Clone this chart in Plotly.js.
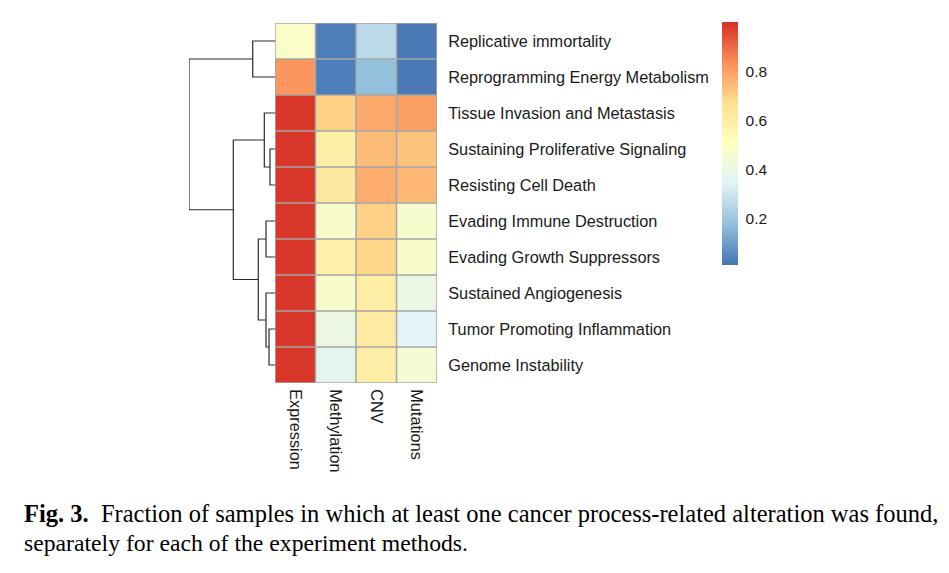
<!DOCTYPE html>
<html>
<head>
<meta charset="utf-8">
<script src="https://cdn.plot.ly/plotly-3.0.1.min.js"></script>
<style>html,body{margin:0;padding:0;background:#fff;}#chart{width:949px;height:573px;}</style>
</head>
<body>
<div id="chart"></div>
<script>
// ---- data ----
const rowLabels = [
  "Replicative immortality",
  "Reprogramming Energy Metabolism",
  "Tissue Invasion and Metastasis",
  "Sustaining Proliferative Signaling",
  "Resisting Cell Death",
  "Evading Immune Destruction",
  "Evading Growth Suppressors",
  "Sustained Angiogenesis",
  "Tumor Promoting Inflammation",
  "Genome Instability"
];
const colLabels = ["Expression", "Methylation", "CNV", "Mutations"];
const expression  = [0.48, 0.82, 0.99, 0.99, 0.99, 0.99, 0.99, 0.99, 0.99, 0.99];
const methylation = [0.03, 0.03, 0.70, 0.59, 0.62, 0.47, 0.58, 0.47, 0.40, 0.36];
const cnv         = [0.26, 0.18, 0.78, 0.74, 0.77, 0.70, 0.69, 0.60, 0.61, 0.60];
const mutations   = [0.02, 0.02, 0.80, 0.73, 0.75, 0.46, 0.47, 0.40, 0.35, 0.45];
// row dendrogram merges: [left, right, height]; leaves 0-9, merge k gets id 10+k
const merges = [
  [0, 1, 22.3],
  [3, 4, 5.0],
  [2, 11, 10.7],
  [5, 6, 9.0],
  [8, 9, 6.0],
  [7, 14, 9.0],
  [13, 15, 16.7],
  [12, 16, 41.7],
  [10, 17, 86.0]
];
const cbTicks = [0.2, 0.4, 0.6, 0.8];
const caption1 = "<b>Fig. 3.</b>  Fraction of samples in which at least one cancer process-related alteration was found,";
const caption2 = "separately for each of the experiment methods.";

// ---- build ----
const W = 949, H = 573;
const z = rowLabels.map((_, i) => [expression[i], methylation[i], cnv[i], mutations[i]]);
const rowIdx = rowLabels.map((_, i) => i);
const colIdx = colLabels.map((_, i) => i);

const colorscale = [
  [0, '#4575B4'], [1/6, '#91BFDB'], [2/6, '#E0F3F8'], [3/6, '#FFFFBF'],
  [4/6, '#FEE090'], [5/6, '#FC8D59'], [1, '#D73027']
];

const heat = {
  type: 'heatmap', x: colIdx, y: rowIdx, z: z,
  colorscale: colorscale, zmin: 0.01, zmax: 1.0,
  hoverinfo: 'none',
  colorbar: {
    x: 722 / W, xanchor: 'left', xpad: 0,
    y: 1 - 22 / H, yanchor: 'top', ypad: 0,
    lenmode: 'pixels', len: 243, thickness: 16,
    outlinewidth: 0, tickvals: cbTicks, ticktext: cbTicks.map(v => v.toFixed(1)),
    ticks: 'outside', ticklen: 5, tickcolor: 'rgba(0,0,0,0)',
    tickfont: {family: 'Liberation Sans, Arial, sans-serif', size: 15.5, color: '#1a1a1a'}
  }
};

// dendrogram lines
const nodeY = {}, nodeH = {};
rowIdx.forEach(i => { nodeY[i] = i; nodeH[i] = 0; });
const dx = [], dy = [];
merges.forEach((m, k) => {
  const [a, b, h] = m;
  const id = 10 + k;
  dx.push(nodeH[a], h, h, nodeH[b], null);
  dy.push(nodeY[a], nodeY[a], nodeY[b], nodeY[b], null);
  nodeY[id] = (nodeY[a] + nodeY[b]) / 2;
  nodeH[id] = h;
});
const dendro = {
  type: 'scatter', mode: 'lines', x: dx, y: dy, xaxis: 'x2', yaxis: 'y',
  line: {color: '#2b2b2b', width: 1.2}, hoverinfo: 'none', showlegend: false
};
const maxH = Math.max(...merges.map(m => m[2]));

// cell border lines
const gridColor = '#a6a6a6';
const shapes = [];
for (let c = 0; c <= colIdx.length; c++) {
  shapes.push({type: 'line', xref: 'x', yref: 'y', x0: c - 0.5, x1: c - 0.5, y0: -0.5, y1: rowIdx.length - 0.5,
               line: {color: gridColor, width: 1.5}, layer: 'above'});
}
for (let r = 0; r <= rowIdx.length; r++) {
  shapes.push({type: 'line', xref: 'x', yref: 'y', x0: -0.5, x1: colIdx.length - 0.5, y0: r - 0.5, y1: r - 0.5,
               line: {color: gridColor, width: 1.5}, layer: 'above'});
}

const lblFont = {family: 'Liberation Sans, Arial, sans-serif', size: 16.3, color: '#1a1a1a'};
const capFont = 'Liberation Serif, Times New Roman, serif';
const layout = {
  width: W, height: H,
  margin: {l: 0, r: 0, t: 0, b: 0},
  paper_bgcolor: '#fff', plot_bgcolor: '#fff',
  showlegend: false,
  shapes: shapes,
  xaxis: {
    domain: [275 / W, 437 / W], range: [-0.5, 3.5], fixedrange: true,
    tickvals: colIdx, ticktext: colLabels, tickangle: 90, tickfont: lblFont,
    ticks: 'outside', ticklen: 2, tickcolor: 'rgba(0,0,0,0)',
    showgrid: false, zeroline: false, showline: false, automargin: false
  },
  yaxis: {
    domain: [1 - 383 / H, 1 - 23 / H], range: [9.5, -0.5], fixedrange: true,
    side: 'right', tickvals: rowIdx, ticktext: rowLabels, tickfont: lblFont,
    ticks: 'outside', ticklen: 7, tickcolor: 'rgba(0,0,0,0)',
    showgrid: false, zeroline: false, showline: false, automargin: false
  },
  xaxis2: {
    domain: [189 / W, 275 / W], range: [maxH, 0], anchor: 'y',
    visible: false, showgrid: false, zeroline: false, fixedrange: true
  },
  annotations: [
    {xref: 'paper', yref: 'paper', x: 22 / W, y: 1 - 513 / H, xanchor: 'left', yanchor: 'middle',
     showarrow: false, text: caption1,
     font: {family: capFont, size: 24.5, color: '#000'}},
    {xref: 'paper', yref: 'paper', x: 22 / W, y: 1 - 543 / H, xanchor: 'left', yanchor: 'middle',
     showarrow: false, text: caption2,
     font: {family: capFont, size: 23.7, color: '#000'}}
  ]
};

Plotly.newPlot('chart', [heat, dendro], layout, {staticPlot: true, displayModeBar: false});
</script>
</body>
</html>
